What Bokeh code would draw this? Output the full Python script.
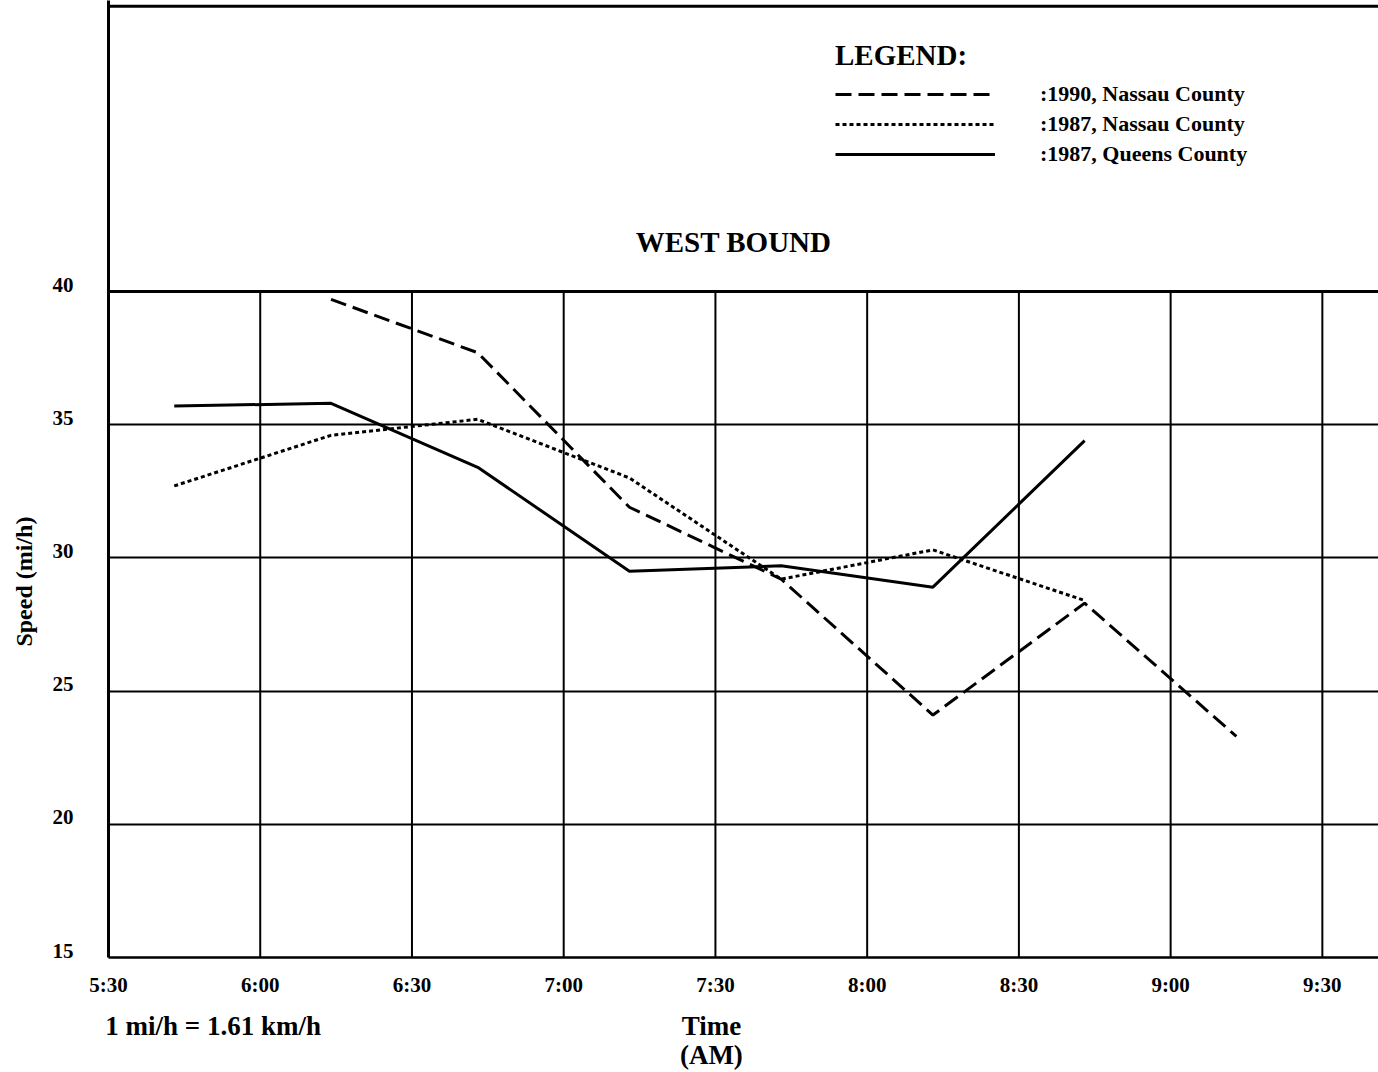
from bokeh.plotting import figure
from bokeh.models import Range1d, FixedTicker, Span, Label, Legend, LegendItem, LinearAxis
from bokeh.embed import file_html
from bokeh.resources import INLINE

# ---- data (time in minutes after midnight, speed in mi/h) ----
tick_minutes = [330, 360, 390, 420, 450, 480, 510, 540, 570]
tick_labels = ["5:30", "6:00", "6:30", "7:00", "7:30", "8:00", "8:30", "9:00", "9:30"]
speed_ticks = [15, 20, 25, 30, 35, 40]
grid_speeds = [20, 25, 30, 35]

nassau_1990_t = [374, 403, 433, 463, 493, 523, 553]
nassau_1990_v = [39.7, 37.7, 31.9, 29.2, 24.1, 28.3, 23.3]

nassau_1987_t = [343, 374, 403, 433, 463, 493, 523]
nassau_1987_v = [32.7, 34.6, 35.2, 33.0, 29.2, 30.3, 28.4]

queens_1987_t = [343, 374, 403, 433, 463, 493, 523]
queens_1987_v = [35.7, 35.8, 33.4, 29.5, 29.7, 28.9, 34.4]

FONT = "Liberation Serif"

p = figure(width=1378, height=1072,
           x_range=Range1d(330, 581.1), y_range=Range1d(15, 50.92),
           output_backend="svg", toolbar_location=None,
           min_border_left=108, min_border_right=0,
           min_border_top=0, min_border_bottom=115)
p.outline_line_color = None
p.background_fill_color = "white"
p.border_fill_color = "white"

def style_axis(ax, size):
    ax.major_tick_line_color = None
    ax.minor_tick_line_color = None
    ax.major_tick_out = 0
    ax.major_tick_in = 0
    ax.minor_tick_out = 0
    ax.minor_tick_in = 0
    ax.major_label_text_font = FONT
    ax.major_label_text_font_style = "bold"
    ax.major_label_text_font_size = size
    ax.major_label_text_color = "black"

# main axes
p.xaxis.ticker = FixedTicker(ticks=tick_minutes)
p.xaxis.major_label_overrides = {t: s for t, s in zip(tick_minutes, tick_labels)}
style_axis(p.xaxis[0], "21px")
p.xaxis.axis_line_color = "black"
p.xaxis.axis_line_width = 2.5
p.xaxis.major_label_standoff = 15

# y tick labels sit slightly above their grid lines in the original
label_lift = 0.26
p.yaxis.ticker = FixedTicker(ticks=[v + label_lift for v in speed_ticks])
p.yaxis.major_label_overrides = {v + label_lift: str(v) for v in speed_ticks}
style_axis(p.yaxis[0], "21px")
p.yaxis.axis_line_color = "black"
p.yaxis.axis_line_width = 3
p.yaxis.major_label_standoff = 35

# extra text rows below the time axis
note_t = 350.7
time_t = 449.2
ax2 = LinearAxis(ticker=FixedTicker(ticks=[note_t, time_t]),
                 major_label_overrides={note_t: "1 mi/h = 1.61 km/h", time_t: "Time"})
style_axis(ax2, "27px")
ax2.axis_line_color = None
ax2.major_label_standoff = 11
p.add_layout(ax2, "below")

ax3 = LinearAxis(ticker=FixedTicker(ticks=[time_t]), major_label_overrides={time_t: "(AM)"})
style_axis(ax3, "27px")
ax3.axis_line_color = None
ax3.major_label_standoff = -4
p.add_layout(ax3, "below")

# y axis title as a rotated label on its own left axis
speed_title_y = 29.11
ax4 = LinearAxis(ticker=FixedTicker(ticks=[speed_title_y]),
                 major_label_overrides={speed_title_y: "Speed (mi/h)"},
                 major_label_orientation="vertical")
style_axis(ax4, "24px")
ax4.axis_line_color = None
ax4.major_label_standoff = 12
p.add_layout(ax4, "left")

# grid
p.xgrid.visible = False
p.ygrid.ticker = FixedTicker(ticks=grid_speeds)
p.ygrid.grid_line_color = "black"
p.ygrid.grid_line_width = 2
p.ygrid.grid_line_alpha = 1

p.add_layout(Span(location=max(speed_ticks), dimension="width", line_color="black", line_width=3))
p.add_layout(Span(location=50.70, dimension="width", line_color="black", line_width=3))
p.segment(x0=tick_minutes[1:], y0=[min(speed_ticks)] * (len(tick_minutes) - 1),
          x1=tick_minutes[1:], y1=[max(speed_ticks)] * (len(tick_minutes) - 1),
          line_color="black", line_width=2)

# series
r1 = p.line(nassau_1990_t, nassau_1990_v, line_color="black", line_width=3, line_dash="16 7")
r2 = p.line(nassau_1987_t, nassau_1987_v, line_color="black", line_width=3, line_dash="4 3")
r3 = p.line(queens_1987_t, queens_1987_v, line_color="black", line_width=3)

legend = Legend(items=[LegendItem(label=":1990, Nassau County", renderers=[r1]),
                       LegendItem(label=":1987, Nassau County", renderers=[r2]),
                       LegendItem(label=":1987, Queens County", renderers=[r3])],
                location=(727, 790), title="LEGEND:",
                title_text_font=FONT, title_text_font_style="bold", title_text_font_size="29px",
                title_text_color="black", title_standoff=9,
                label_text_font=FONT, label_text_font_style="bold", label_text_font_size="22px",
                label_text_color="black",
                glyph_width=160, glyph_height=24, label_height=24, label_standoff=45,
                spacing=4, padding=0, margin=0,
                border_line_color=None, background_fill_alpha=0)
p.add_layout(legend)

p.add_layout(Label(x=453.6, y=41.84, text="WEST BOUND", text_font=FONT, text_font_style="bold",
                   text_font_size="29px", text_align="center", text_baseline="alphabetic",
                   text_color="black"))

open("out.html", "w").write(file_html(p, INLINE))
